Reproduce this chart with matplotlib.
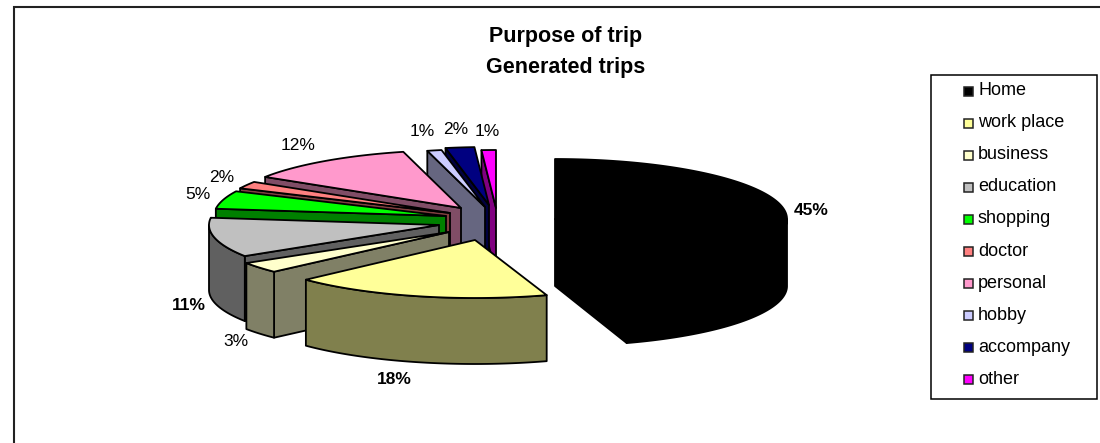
import numpy as np
import matplotlib
matplotlib.use('Agg')
import matplotlib.pyplot as plt
from matplotlib.patches import Polygon, Rectangle

# Trip purpose shares, drawn as an exploded 3D pie

purposes = ['Home', 'work place', 'business', 'education', 'shopping',
            'doctor', 'personal', 'hobby', 'accompany', 'other']
shares = [45, 18, 3, 11, 5, 2, 12, 1, 2, 1]

top_colors = ['#000000', '#FFFF99', '#FFFFCC', '#C0C0C0', '#00FF00',
              '#FF8080', '#FF99CC', '#CCCCFF', '#000080', '#FF00FF']
side_colors = ['#000000', '#80804D', '#808066', '#606060', '#008000',
               '#804040', '#804D66', '#666680', '#000040', '#800080']

# apex and radii of each exploded slice, in pixels
apex_x = [555, 475, 449, 439, 446, 450, 461, 485, 489, 496]
apex_y = [219, 240, 232, 225, 216, 213, 208, 207, 205, 208]
slice_rx = [232, 232, 240, 230, 232, 232, 232, 232, 232, 232]
slice_ry = [60, 58, 58, 58, 58, 58, 58, 58, 58, 58]
slice_depth = [67, 66, 66, 65, 66, 66, 66, 66, 66, 66]
label_x = [811, 394, 236, 189, 198, 222, 298, 422, 456, 487]
label_y = [210, 380, 342, 305, 194, 178, 146, 131, 129, 131]
label_bold = [True, True, False, True, False, False, False, False, False, False]

plt.rcParams['font.family'] = ['Liberation Sans', 'DejaVu Sans']

fig = plt.figure(figsize=(11, 4.43), dpi=100)
ax = fig.add_axes([0, 0, 1, 1])
ax.set_xlim(0, 1100)
ax.set_ylim(443, 0)
ax.axis('off')


def rim(i, a, b, drop=0):
    a, b = np.radians(a), np.radians(b)
    t = np.linspace(a, b, max(int(np.degrees(b - a)) * 2, 2))
    return np.column_stack([apex_x[i] + slice_rx[i] * np.sin(t),
                            apex_y[i] - slice_ry[i] * np.cos(t) + drop])


def add_face(pts, color):
    ax.add_patch(Polygon(pts, closed=True, facecolor=color, edgecolor='black',
                         linewidth=1.3, joinstyle='round'))


edges = np.cumsum([0] + shares) * 3.6

for i in reversed(range(len(shares))):
    x0, y0, depth = apex_x[i], apex_y[i], slice_depth[i]
    start, end = edges[i], edges[i + 1]

    # radial faces looking towards the viewer
    for angle, visible in ((start, np.sin(np.radians(start)) < -1e-6),
                           (end, np.sin(np.radians(end)) > 1e-6)):
        if visible:
            outer = rim(i, angle, angle + 0.01)[0]
            add_face([(x0, y0), outer, outer + (0, depth), (x0, y0 + depth)],
                     side_colors[i])

    # curved wall, front half only
    lo, hi = max(start, 90), min(end, 270)
    if hi > lo:
        add_face(np.vstack([rim(i, lo, hi), rim(i, lo, hi, depth)[::-1]]),
                 side_colors[i])

    add_face(np.vstack([[(x0, y0)], rim(i, start, end)]), top_colors[i])

for i, share in enumerate(shares):
    ax.text(label_x[i], label_y[i], f'{share}%', fontsize=12.5,
            fontweight='bold' if label_bold[i] else 'normal',
            ha='center', va='center')

ax.text(566, 36, 'Purpose of trip', fontsize=15.5, fontweight='bold',
        ha='center', va='center')
ax.text(566, 67, 'Generated trips', fontsize=15.5, fontweight='bold',
        ha='center', va='center')

# chart area frame
ax.plot([14, 14, 1100], [443, 7, 7], color='#222222', linewidth=1.5,
        solid_joinstyle='miter')

# legend box
ax.add_patch(Rectangle((931, 75), 166, 324, facecolor='white',
                       edgecolor='black', linewidth=1.1))
for i, name in enumerate(purposes):
    y = 91 + i * 32.1
    ax.add_patch(Rectangle((963.5, y - 4.5), 9, 9, facecolor=top_colors[i],
                           edgecolor='#222222', linewidth=1.1))
    ax.text(978, y - 0.5, name, fontsize=13, ha='left', va='center')

fig.savefig('out.png', dpi=100)
